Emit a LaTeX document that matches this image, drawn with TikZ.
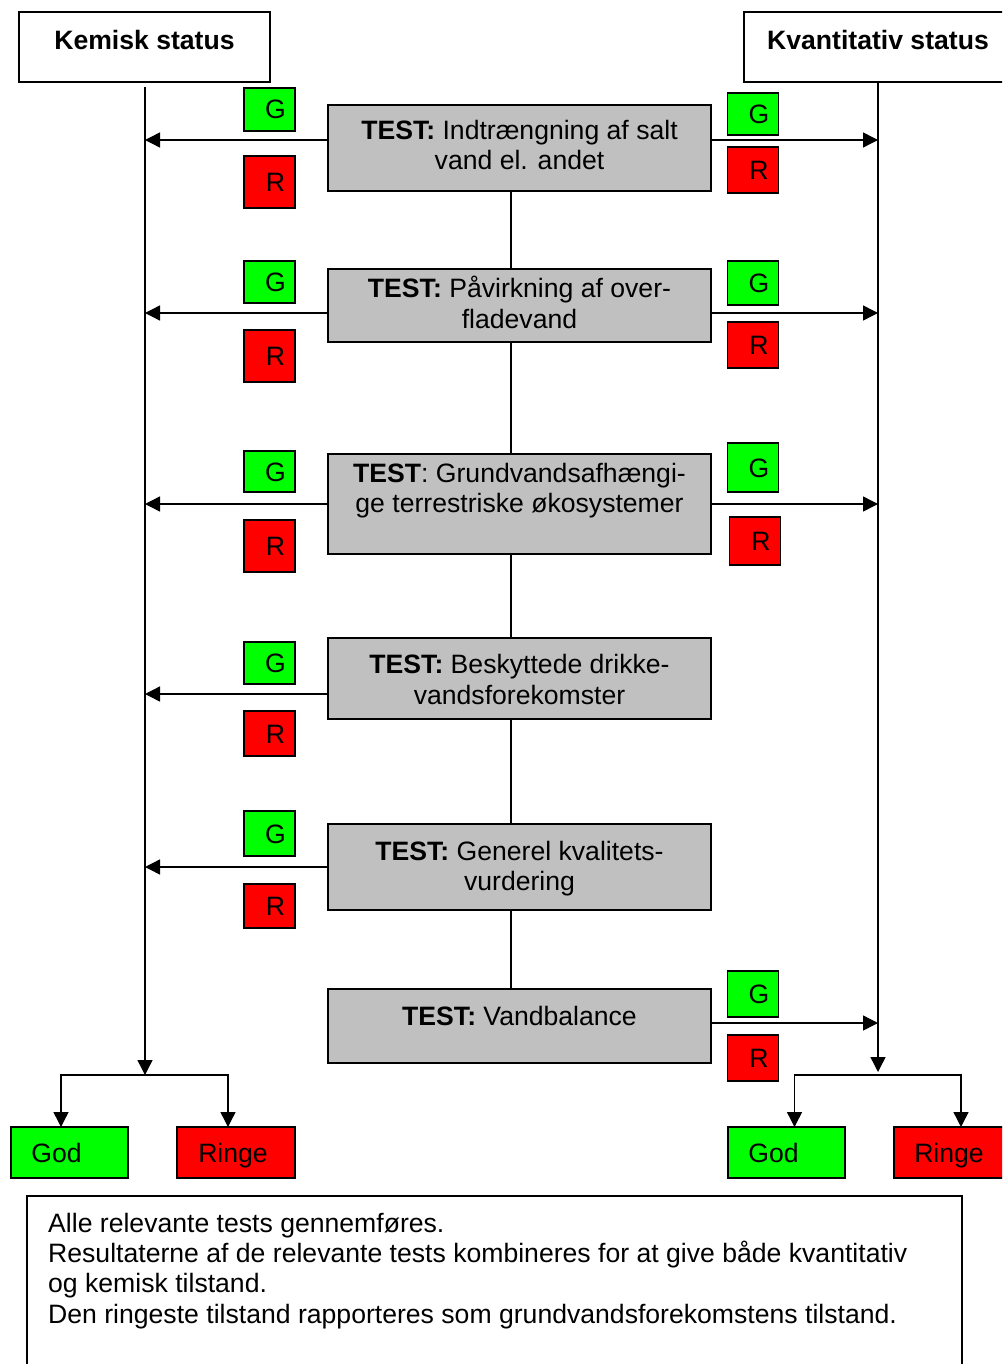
\documentclass[tikz,border=0pt]{standalone}
\usepackage{fontspec}
\setmainfont{Liberation Sans}
\usetikzlibrary{arrows.meta}
\definecolor{gfill}{HTML}{00FF00}
\definecolor{rfill}{HTML}{FF0000}
\definecolor{tfill}{HTML}{C0C0C0}
\newcommand\bodyfont{\fontsize{26.6}{30.5}\selectfont}
\begin{document}
\begin{tikzpicture}[x=1pt,y=-1pt,
  box/.style={draw, line width=1.8pt, inner sep=0pt, outer sep=0pt, font=\bodyfont},
  testbox/.style={box, fill=tfill, minimum width=383},
  gbox/.style={box, fill=gfill, minimum width=51, text height=19pt, text depth=0pt},
  rbox/.style={box, fill=rfill, minimum width=51, text height=19pt, text depth=0pt},
  endbox/.style={box, minimum width=117.5, minimum height=51, text height=19pt, text depth=0pt},
  txt/.style={inner sep=0pt, anchor=base, font=\bodyfont},
  ltxt/.style={inner sep=0pt, anchor=base west, font=\bodyfont},
  conn/.style={line width=1.4pt},
  arr/.style={conn, -{Triangle[length=15pt,width=15pt]}}]
\clip (0,0) rectangle (1002,1364);
\fill[white] (0,0) rectangle (1002,1364);

% headings
\node[box, minimum width=251, minimum height=70] (kem) at (144.5,47) {};
\node[txt, font=\bodyfont\bfseries] (kemT) at (144.5,50) {Kemisk status};
\node[box, minimum width=268, minimum height=70] (kva) at (878,47) {};
\node[txt, font=\bodyfont\bfseries] (kvaT) at (878,50) {Kvantitativ status};

% test boxes
\node[testbox, minimum height=86] (t1) at (519.5,148) {};
\node[testbox, minimum height=73] (t2) at (519.5,305.5) {};
\node[testbox, minimum height=100] (t3) at (519.5,504) {};
\node[testbox, minimum height=81] (t4) at (519.5,678.5) {};
\node[testbox, minimum height=86] (t5) at (519.5,867) {};
\node[testbox, minimum height=74] (t6) at (519.5,1026) {};

\node[txt] (t1a) at (519.5,140) {\textbf{TEST:} Indtrængning af salt};
\node[txt] (t1b) at (519.5,170) {vand el. andet};
\node[txt] (t2a) at (519.5,297) {\textbf{TEST:} Påvirkning af over-};
\node[txt] (t2b) at (519.5,328) {fladevand};
\node[txt] (t3a) at (519.5,482) {\textbf{TEST}: Grundvandsafhængi-};
\node[txt] (t3b) at (519.5,512) {ge terrestriske økosystemer};
\node[txt] (t4a) at (519.5,673) {\textbf{TEST:} Beskyttede drikke-};
\node[txt] (t4b) at (519.5,704) {vandsforekomster};
\node[txt] (t5a) at (519.5,860) {\textbf{TEST:} Generel kvalitets-};
\node[txt] (t5b) at (519.5,890) {vurdering};
\node[txt] (t6a) at (519.5,1025) {\textbf{TEST:} Vandbalance};

% central connector
\coordinate (mid) at (511,0);
\draw[conn] (t1.south -| mid) -- (t2.north -| mid);
\draw[conn] (t2.south -| mid) -- (t3.north -| mid);
\draw[conn] (t3.south -| mid) -- (t4.north -| mid);
\draw[conn] (t4.south -| mid) -- (t5.north -| mid);
\draw[conn] (t5.south -| mid) -- (t6.north -| mid);

% vertical status lines
\coordinate (Ltop) at (145,87);
\coordinate (Lbot) at (145,1075);
\coordinate (Rbot) at (878,1072);
\coordinate (Rjoin) at (878,1075);
\draw[arr] (Ltop) -- (Lbot);
\draw[arr] (kva.south) -- (Rbot);

% arrow targets
\coordinate (L1) at (145,140);
\coordinate (L2) at (145,313);
\coordinate (L3) at (145,504);
\coordinate (L4) at (145,694);
\coordinate (L5) at (145,867);
\coordinate (R1) at (878,140);
\coordinate (R2) at (878,313);
\coordinate (R3) at (878,504);
\coordinate (R6) at (878,1023);
\draw[arr] (t1.west |- L1) -- (L1);
\draw[arr] (t2.west |- L2) -- (L2);
\draw[arr] (t3.west |- L3) -- (L3);
\draw[arr] (t4.west |- L4) -- (L4);
\draw[arr] (t5.west |- L5) -- (L5);
\draw[arr] (t1.east |- R1) -- (R1);
\draw[arr] (t2.east |- R2) -- (R2);
\draw[arr] (t3.east |- R3) -- (R3);
\draw[arr] (t6.east |- R6) -- (R6);

% G / R markers left
\node[gbox, minimum height=43] (gl1) at (269.5,109.5) {\hspace*{12pt}G};
\node[rbox, minimum height=52] (rl1) at (269.5,182) {\hspace*{12pt}R};
\node[gbox, minimum height=42] (gl2) at (269.5,282) {\hspace*{12pt}G};
\node[rbox, minimum height=52] (rl2) at (269.5,356) {\hspace*{12pt}R};
\node[gbox, minimum height=41] (gl3) at (269.5,471.5) {\hspace*{12pt}G};
\node[rbox, minimum height=52] (rl3) at (269.5,546) {\hspace*{12pt}R};
\node[gbox, minimum height=42] (gl4) at (269.5,663) {\hspace*{12pt}G};
\node[rbox, minimum height=45] (rl4) at (269.5,733.5) {\hspace*{12pt}R};
\node[gbox, minimum height=45] (gl5) at (269.5,833.5) {\hspace*{12pt}G};
\node[rbox, minimum height=44] (rl5) at (269.5,906) {\hspace*{12pt}R};

% G / R markers right
\node[gbox, minimum height=42] (gr1) at (753,113.8) {\hspace*{12pt}G};
\node[rbox, minimum height=46] (rr1) at (753,170) {\hspace*{12pt}R};
\node[gbox, minimum height=44] (gr2) at (753,283) {\hspace*{12pt}G};
\node[rbox, minimum height=46] (rr2) at (753,345) {\hspace*{12pt}R};
\node[gbox, minimum height=49] (gr3) at (753,467.5) {\hspace*{12pt}G};
\node[rbox, minimum height=48] (rr3) at (755,541) {\hspace*{12pt}R};
\node[gbox, minimum height=46] (gr6) at (753,994) {\hspace*{12pt}G};
\node[rbox, minimum height=46] (rr6) at (753,1058) {\hspace*{12pt}R};

% end results
\node[endbox, fill=gfill] (godL) at (69.5,1152.5) {God\hspace*{26pt}};
\node[endbox, fill=rfill] (ringeL) at (236,1152.5) {Ringe\hspace*{6pt}};
\node[endbox, fill=gfill] (godR) at (786.5,1152.5) {God\hspace*{26pt}};
\node[endbox, fill=rfill] (ringeR) at (953,1152.5) {Ringe\hspace*{8pt}};
\draw[arr] (Lbot) -| ([xshift=-8.5pt]godL.north);
\draw[arr] (Lbot) -| ([xshift=-8pt]ringeL.north);
\draw[arr] (Rjoin) -| ([xshift=8pt]godR.north);
\draw[arr] (Rjoin) -| ([xshift=8pt]ringeR.north);

% note box
\node[box, minimum width=935, minimum height=220] (note) at (494.5,1306) {};
\node[ltxt] (n1) at (48,1232) {Alle relevante tests gennemføres.};
\node[ltxt] (n2) at (48,1262) {Resultaterne af de relevante tests kombineres for at give både kvantitativ};
\node[ltxt] (n3) at (48,1292.5) {og kemisk tilstand.};
\node[ltxt] (n4) at (48,1323) {Den ringeste tilstand rapporteres som grundvandsforekomstens tilstand.};
\end{tikzpicture}
\end{document}
